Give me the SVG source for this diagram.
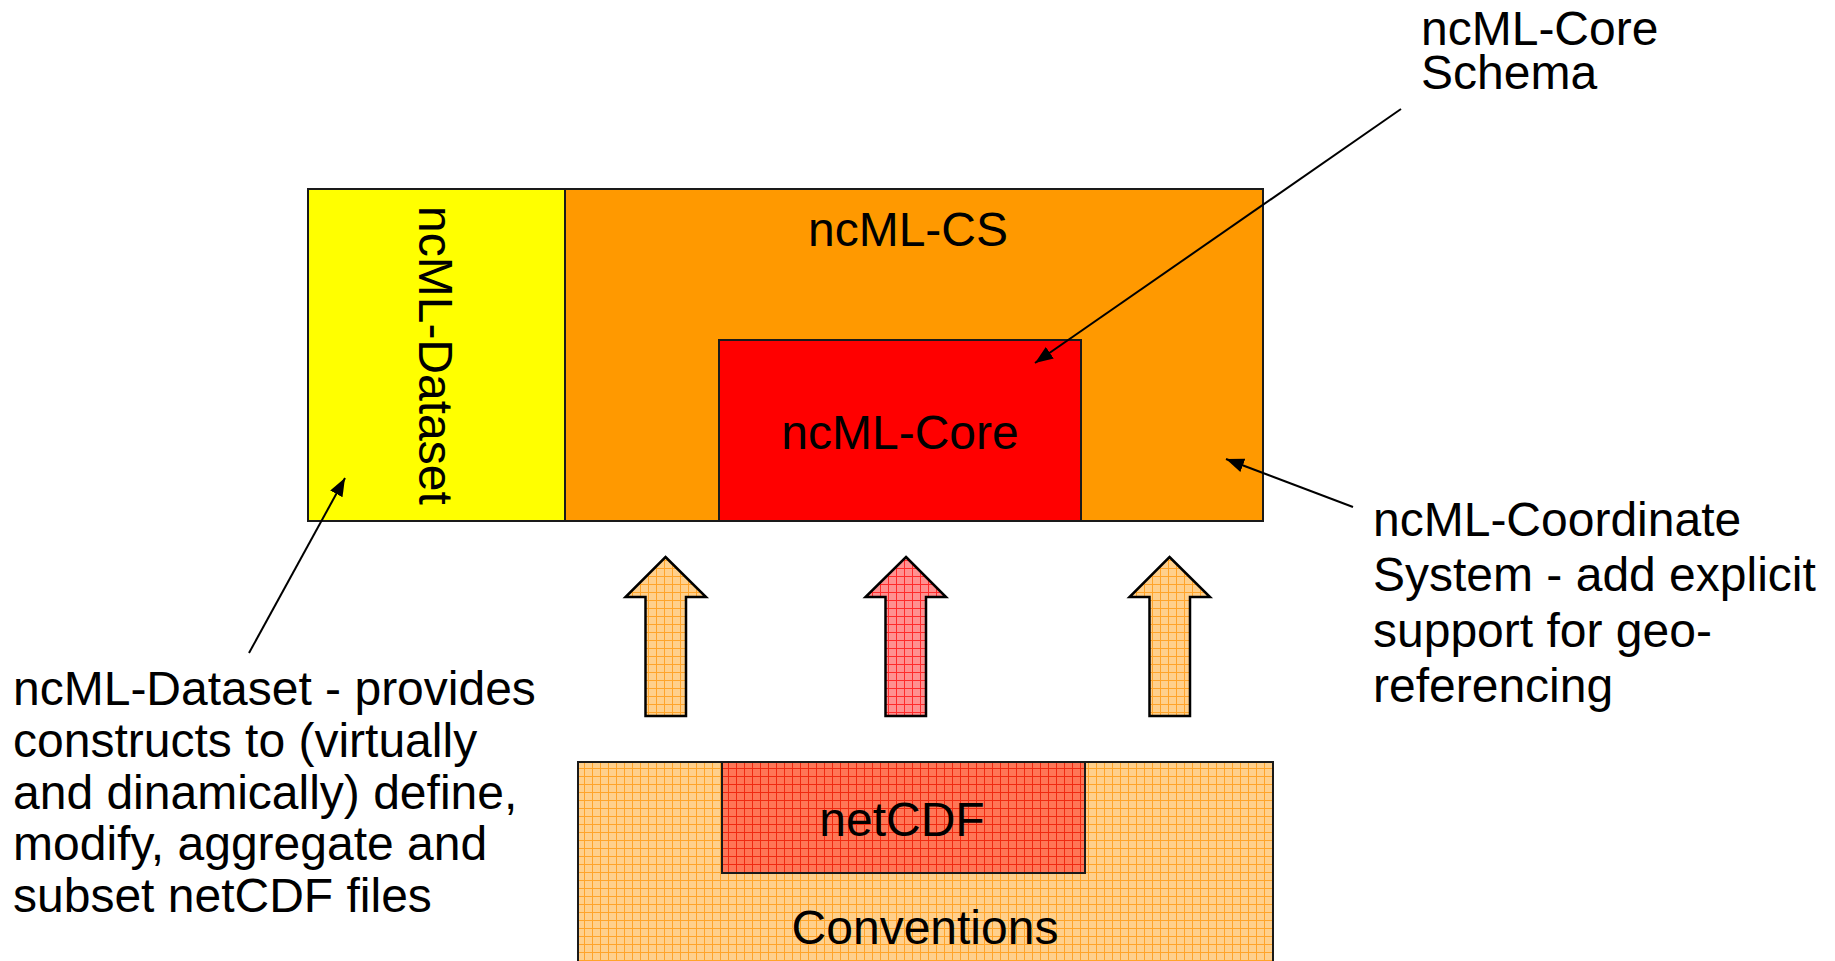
<svg xmlns="http://www.w3.org/2000/svg" width="1835" height="961" viewBox="0 0 1835 961">
<defs>
<style>
text{font-family:"Liberation Sans",Arial,sans-serif;font-size:48px;fill:#000}
.box{stroke:#1a1a1a;stroke-width:2}
.blk{stroke:#000;stroke-width:2.5;stroke-linejoin:miter}
.lead{stroke:#000;stroke-width:2;fill:none;marker-end:url(#ah)}
.c{text-anchor:middle}
</style>
<pattern id="pOr" width="8" height="8" patternUnits="userSpaceOnUse">
<rect width="8" height="8" fill="#FFD08C"/>
<path d="M0,0.5H8M0.5,0V8" stroke="#FFA42A" stroke-width="1"/>
</pattern>
<pattern id="pRd" width="8" height="8" patternUnits="userSpaceOnUse">
<rect width="8" height="8" fill="#FF7656"/>
<path d="M0,0.5H8M0.5,0V8" stroke="#F02A10" stroke-width="1"/>
</pattern>
<pattern id="pPk" width="8" height="8" patternUnits="userSpaceOnUse">
<rect width="8" height="8" fill="#FF9090"/>
<path d="M0,0.5H8M0.5,0V8" stroke="#FF2A2A" stroke-width="1"/>
</pattern>
<marker id="ah" markerUnits="userSpaceOnUse" markerWidth="20" markerHeight="16" refX="18" refY="7" orient="auto">
<path d="M0,0L18,7L0,14z" fill="#000"/>
</marker>
</defs>

<g id="ncml-dataset">
<rect class="box" x="308" y="189" width="257" height="332" fill="#FFFF00"/>
<text transform="translate(419,206) rotate(90)">ncML-Dataset</text>
</g>
<g id="ncml-cs">
<rect class="box" x="565" y="189" width="698" height="332" fill="#FF9900"/>
<text class="c" x="908" y="246">ncML-CS</text>
</g>
<g id="ncml-core">
<rect class="box" x="719" y="340" width="362" height="181" fill="#FF0000"/>
<text class="c" x="900" y="449">ncML-Core</text>
</g>

<g id="up-arrows">
<polygon class="blk" fill="url(#pOr)" points="665.5,557 706,597 686,597 686,716 645.5,716 645.5,597 625.5,597"/>
<polygon class="blk" fill="url(#pPk)" points="906,557 946,597 926,597 926,716 885.5,716 885.5,597 865.5,597"/>
<polygon class="blk" fill="url(#pOr)" points="1169.5,557 1210,597 1190,597 1190,716 1149.5,716 1149.5,597 1129.5,597"/>
</g>

<g id="conventions">
<rect class="box" x="578" y="762" width="695" height="230" fill="url(#pOr)"/>
<text class="c" x="925" y="944">Conventions</text>
</g>
<g id="netcdf">
<rect class="box" x="722" y="762" width="363" height="111" fill="url(#pRd)"/>
<text class="c" x="902" y="836">netCDF</text>
</g>

<g id="label-core-schema">
<text x="1421" y="45">ncML-Core<tspan x="1421" y="89">Schema</tspan></text>
</g>
<g id="label-coordinate-system">
<text x="1373" y="536">ncML-Coordinate<tspan x="1373" y="591">System - add explicit</tspan><tspan x="1373" y="647">support for geo-</tspan><tspan x="1373" y="702">referencing</tspan></text>
</g>
<g id="label-dataset">
<text x="13" y="705">ncML-Dataset - provides<tspan x="13" y="757">constructs to (virtually</tspan><tspan x="13" y="809">and dinamically) define,</tspan><tspan x="13" y="860">modify, aggregate and</tspan><tspan x="13" y="912">subset netCDF files</tspan></text>
</g>

<g id="connectors">
<line class="lead" x1="1401" y1="109" x2="1035" y2="363"/>
<line class="lead" x1="249" y1="653" x2="345" y2="478"/>
<line class="lead" x1="1353" y1="507" x2="1226" y2="459"/>
</g>
</svg>
